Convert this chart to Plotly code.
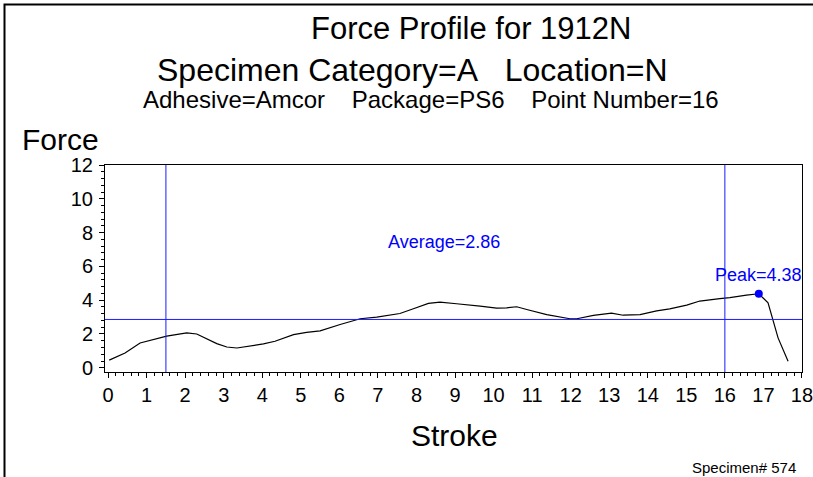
import plotly.graph_objects as go

# Force trace read along the stroke
stroke = [0.03, 0.44, 0.83, 1.05, 1.52, 2.04, 2.30, 2.82, 3.08, 3.34, 3.77, 4.03,
          4.33, 4.81, 5.15, 5.50, 6.02, 6.54, 6.97, 7.57, 7.92, 8.31, 8.61, 8.87,
          9.04, 9.65, 10.08, 10.34, 10.60, 10.86, 11.38, 11.98, 12.16, 12.59, 13.06,
          13.36, 13.80, 14.23, 14.57, 15.01, 15.35, 15.87, 16.13, 16.56, 16.75, 16.88,
          17.12, 17.38, 17.64]
force = [0.45, 0.87, 1.47, 1.60, 1.87, 2.06, 2.00, 1.43, 1.23, 1.17, 1.33, 1.41,
         1.57, 1.96, 2.10, 2.18, 2.56, 2.90, 3.00, 3.21, 3.49, 3.81, 3.89, 3.85,
         3.79, 3.65, 3.53, 3.55, 3.61, 3.45, 3.15, 2.90, 2.90, 3.10, 3.23,
         3.11, 3.15, 3.37, 3.49, 3.71, 3.95, 4.09, 4.15, 4.30, 4.36, 4.38,
         3.85, 1.77, 0.38]

average_force = 2.86
peak_stroke = 16.88
peak_force = 4.38
window_start = 1.5
window_end = 16.0

x_ticks = list(range(0, 19))
y_ticks = [0, 2, 4, 6, 8, 10, 12]

W, H = 813, 477
L, R, T, B = 105, 11, 165, 105
PW, PH = W - L - R, H - T - B


def px(x):
    return (x - L) / PW


def py(y):
    return (H - B - y) / PH


FONT = "Liberation Sans, Arial, sans-serif"
BLUE = "#1a1aff"

fig = go.Figure()
fig.add_trace(go.Scatter(x=stroke, y=force, mode="lines",
                         line=dict(color="black", width=1.2), showlegend=False))
fig.add_trace(go.Scatter(x=[peak_stroke], y=[peak_force], mode="markers",
                         marker=dict(color="#0000ff", size=8), showlegend=False))

# reference lines: average level and the averaging window
fig.add_hline(y=average_force, line=dict(color=BLUE, width=1))
fig.add_vline(x=window_start, line=dict(color=BLUE, width=1))
fig.add_vline(x=window_end, line=dict(color=BLUE, width=1))

fig.add_annotation(x=8.72, y=7.45, xref="x", yref="y", showarrow=False,
                   text=f"Average={average_force:.2f}",
                   font=dict(family=FONT, size=18, color="#0000ff"))
fig.add_annotation(x=peak_stroke, y=peak_force + 1.1, xref="x", yref="y",
                   showarrow=False, text=f"Peak={peak_force:.2f}",
                   font=dict(family=FONT, size=18, color="#0000ff"))

titles = [
    ("Force Profile for 1912N", 471, 28, 31),
    ("Specimen Category=A&nbsp;&nbsp;&nbsp;Location=N", 412, 70, 32),
    ("Adhesive=Amcor&nbsp;&nbsp;&nbsp;&nbsp;Package=PS6&nbsp;&nbsp;&nbsp;&nbsp;Point Number=16", 431, 100, 24),
]
for text, cx, cy, size in titles:
    fig.add_annotation(x=px(cx), y=py(cy), xref="paper", yref="paper",
                       showarrow=False, text=text, xanchor="center", yanchor="middle",
                       font=dict(family=FONT, size=size, color="black"))

fig.add_annotation(x=px(20), y=py(139), xref="paper", yref="paper", showarrow=False,
                   text="Force", xanchor="left", yanchor="middle",
                   font=dict(family=FONT, size=30, color="black"))
fig.add_annotation(x=px(454), y=py(435), xref="paper", yref="paper", showarrow=False,
                   text="Stroke", xanchor="center", yanchor="middle",
                   font=dict(family=FONT, size=30, color="black"))
fig.add_annotation(x=px(798), y=py(467), xref="paper", yref="paper", showarrow=False,
                   text="Specimen# 574", xanchor="right", yanchor="middle",
                   font=dict(family=FONT, size=15, color="black"))

# page frame
fig.add_shape(type="rect", xref="paper", yref="paper",
              x0=px(4.5), x1=px(W + 20), y0=py(4.5), y1=py(H + 20),
              line=dict(color="black", width=2), fillcolor="rgba(0,0,0,0)", layer="below")

fig.update_layout(
    width=W, height=H,
    margin=dict(l=L, r=R, t=T, b=B, pad=0, autoexpand=False),
    paper_bgcolor="white", plot_bgcolor="white",
    font=dict(family=FONT, color="black"),
    showlegend=False,
)
fig.update_xaxes(range=[-0.08, 18.001], tickvals=x_ticks, ticktext=[str(v) for v in x_ticks],
                 showline=True, linecolor="black", linewidth=1, mirror=True,
                 ticks="outside", ticklen=5, tickcolor="black", showgrid=False,
                 zeroline=False, tickfont=dict(family=FONT, size=20),
                 ticklabeloverflow="allow", automargin=False,
                 minor=dict(dtick=0.2, tick0=0, ticks="outside", ticklen=3,
                            tickcolor="black", showgrid=False))
fig.update_yaxes(range=[-0.25, 12], tickvals=y_ticks, ticktext=[str(v) for v in y_ticks],
                 showline=True, linecolor="black", linewidth=1, mirror=True,
                 ticks="outside", ticklen=5, tickcolor="black", showgrid=False,
                 zeroline=False, tickfont=dict(family=FONT, size=20), automargin=False,
                 ticklabelstandoff=2,
                 minor=dict(dtick=0.4, tick0=0, ticks="outside", ticklen=3,
                            tickcolor="black", showgrid=False))

fig.write_html("out.html")
